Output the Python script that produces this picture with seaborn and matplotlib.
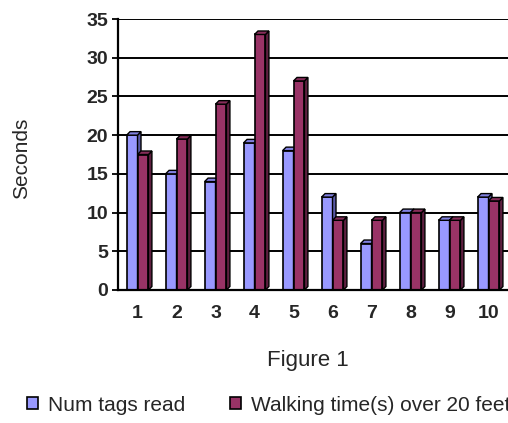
import matplotlib
matplotlib.use("Agg")
import matplotlib.pyplot as plt
import seaborn as sns
import pandas as pd
from matplotlib.patches import Polygon, Rectangle
from matplotlib.ticker import FixedLocator

categories = ["1", "2", "3", "4", "5", "6", "7", "8", "9", "10"]
num_tags = [20, 15, 14, 19, 18, 12, 6, 10, 9, 12]
walking = [17.5, 19.5, 24, 33, 27, 9, 9, 10, 9, 11.5]
series_names = ["Num tags read", "Walking time(s) over 20 feet"]
y_ticks = [0, 5, 10, 15, 20, 25, 30, 35]
colors = ["#9999FF", "#993366"]
side_colors = ["#5A5AA6", "#5E1F40"]
top_colors = ["#8080E0", "#862D59"]

sns.set_style("white")
plt.rcParams["font.family"] = ["Liberation Sans", "DejaVu Sans"]

df = pd.DataFrame({
    "cat": categories * 2,
    "value": num_tags + walking,
    "series": [series_names[0]] * len(categories) + [series_names[1]] * len(categories),
})

W, H = 508, 423
fig = plt.figure(figsize=(W / 100, H / 100), dpi=100)
ax = fig.add_axes([118 / W, 1 - 290 / H, 390 / W, 271 / H])

sns.barplot(data=df, x="cat", y="value", hue="series", order=categories,
            hue_order=series_names, palette=colors, width=0.56,
            edgecolor="black", linewidth=1.2, ax=ax, legend=False,
            saturation=1)

ax.set_xlim(-0.5, len(categories) - 0.5)
ax.set_ylim(0, 35)

# pseudo-3D depth faces derived from bar geometry
dx = 3.5 * (len(categories) / 390)
dy = 3.5 * (35 / 271)
for i, cont in enumerate(ax.containers):
    for p in cont.patches:
        x, y0 = p.get_x(), p.get_y()
        w, h = p.get_width(), p.get_height()
        p.set_zorder(3 + i)
        side = Polygon([(x + w, y0), (x + w + dx, y0 + dy), (x + w + dx, h + dy), (x + w, h)],
                       closed=True, fc=side_colors[i], ec="black", lw=1.0, zorder=3 + i)
        top = Polygon([(x, h), (x + dx, h + dy), (x + w + dx, h + dy), (x + w, h)],
                      closed=True, fc=top_colors[i], ec="black", lw=1.0, zorder=3 + i)
        ax.add_patch(side)
        ax.add_patch(top)

ax.set_yticks(y_ticks)
ax.set_yticklabels([str(t) for t in y_ticks], fontsize=14, fontweight="bold")
ax.set_xticks(range(len(categories)))
ax.set_xticklabels(categories, fontsize=14, fontweight="bold")
ax.xaxis.set_minor_locator(FixedLocator([k - 0.5 for k in range(len(categories) + 1)]))
ax.tick_params(axis="x", which="major", length=0, pad=11)
ax.tick_params(axis="x", which="minor", length=4, width=1.3, direction="out", color="black")
ax.tick_params(axis="y", which="major", length=4, width=1.3, direction="out", color="black", pad=3, left=True)

ax.set_axisbelow(True)
ax.yaxis.grid(True, color="black", linewidth=1.4)
ax.xaxis.grid(False)
for s in ["top", "right"]:
    ax.spines[s].set_visible(False)
for s in ["left", "bottom"]:
    ax.spines[s].set_color("black")
    ax.spines[s].set_linewidth(1.6)
    ax.spines[s].set_zorder(10)

ax.set_xlabel("")
ax.set_ylabel("Seconds", fontsize=15)
ax.yaxis.set_label_coords((31 - 118) / 390, (290 - 158) / 271)

fig.text(308 / W, 1 - 360 / H, "Figure 1", ha="center", va="center", fontsize=16)

handles = [Rectangle((0, 0), 1, 1, fc=c, ec="black", lw=1.2) for c in colors]
fig.legend(handles, series_names, loc="center left", bbox_to_anchor=(27 / W, 1 - 405 / H),
           ncol=2, frameon=False, fontsize=15, handlelength=0.55, handleheight=0.55,
           handletextpad=0.45, columnspacing=2.15, borderaxespad=0, borderpad=0)

fig.savefig("out.png", dpi=100, facecolor="white")
